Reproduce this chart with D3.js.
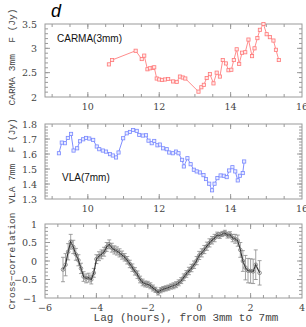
<!DOCTYPE html>
<html>
<head>
<meta charset="utf-8">
<script src="https://cdn.jsdelivr.net/npm/d3@7"></script>
<style>
  body { margin: 0; background: #fff; }
  svg text { fill: #444; }
</style>
</head>
<body>
<svg id="chart" width="306" height="327"></svg>
<script>
// CARMA 3mm light curve (hours, Jy)
var carmaTime = [10.59,10.68,11.34,11.51,11.58,11.67,11.74,11.82,11.86,11.93,12.0,12.08,12.16,12.25,12.39,12.49,12.58,12.66,12.73,13.10,13.18,13.25,13.33,13.42,13.52,13.61,13.70,13.78,13.87,13.94,14.02,14.09,14.17,14.24,14.32,14.41,14.50,14.60,14.67,14.75,14.82,14.92,15.01,15.10,15.20,15.27,15.35];
var carmaFlux = [2.67,2.76,2.95,2.78,2.85,2.57,2.59,2.60,2.61,2.38,2.36,2.35,2.36,2.37,2.32,2.31,2.42,2.40,2.38,2.11,2.20,2.25,2.39,2.47,2.28,2.50,2.42,2.76,2.69,2.55,2.56,2.76,2.98,2.68,2.91,2.92,3.18,2.84,3.00,3.21,3.38,3.50,3.29,3.23,3.16,2.97,2.76];

// VLA 7mm light curve (hours, Jy)
var vlaTime = [9.19,9.27,9.36,9.44,9.53,9.60,9.70,9.78,9.87,9.95,10.04,10.15,10.25,10.32,10.42,10.51,10.62,10.70,10.79,10.86,10.99,11.09,11.18,11.27,11.37,11.44,11.54,11.63,11.70,11.79,11.86,11.95,12.02,12.11,12.21,12.28,12.38,12.47,12.54,12.64,12.69,12.79,12.88,12.97,13.05,13.14,13.24,13.31,13.40,13.48,13.55,13.63,13.72,13.81,13.89,13.96,14.05,14.13,14.20,14.26,14.34,14.38];
var vlaFlux = [1.605,1.676,1.672,1.707,1.734,1.623,1.638,1.685,1.698,1.707,1.703,1.694,1.650,1.632,1.623,1.616,1.599,1.590,1.577,1.610,1.705,1.738,1.747,1.760,1.754,1.727,1.723,1.725,1.689,1.672,1.687,1.658,1.663,1.638,1.632,1.610,1.605,1.616,1.605,1.561,1.517,1.572,1.532,1.495,1.484,1.477,1.459,1.433,1.402,1.358,1.402,1.439,1.457,1.455,1.446,1.490,1.512,1.484,1.424,1.455,1.473,1.550];

// cross-correlation vs lag
var lags = [-5.3,-5.2,-5.1,-5.0,-4.9,-4.8,-4.7,-4.6,-4.5,-4.4,
            -4.3,-4.2,-4.1,-4.0,-3.9,-3.8,-3.7,-3.6,-3.5,-3.4,
            -3.3,-3.2,-3.1,-3.0,-2.9,-2.8,-2.7,-2.6,-2.5,-2.4,
            -2.3,-2.2,-2.1,-2.0,-1.9,-1.8,-1.7,-1.6,-1.5,-1.4,
            -1.3,-1.2,-1.1,-1.0,-0.9,-0.8,-0.7,-0.6,-0.5,-0.4,
            -0.3,-0.2,-0.1,0.0,0.1,0.2,0.3,0.4,0.5,0.6,
            0.7,0.8,0.9,1.0,1.1,1.2,1.3,1.4,1.5,1.6,
            1.7,1.8,1.9,2.0,2.1,2.2,2.35];
var corr = [-0.23,-0.1,0.25,0.52,0.38,0.18,0.02,-0.2,-0.42,-0.47,
            -0.45,-0.5,-0.32,0.05,0.13,0.18,0.25,0.38,0.45,0.36,
            0.3,0.27,0.22,0.16,0.1,0.02,-0.08,-0.18,-0.28,-0.37,
            -0.5,-0.58,-0.62,-0.63,-0.67,-0.73,-0.78,-0.85,-0.79,-0.76,
            -0.74,-0.72,-0.69,-0.67,-0.64,-0.59,-0.53,-0.44,-0.35,-0.27,
            -0.19,-0.1,0.01,0.15,0.22,0.31,0.4,0.49,0.56,0.62,
            0.7,0.69,0.73,0.76,0.7,0.71,0.62,0.6,0.55,0.3,
            0.0,-0.18,-0.26,-0.27,-0.28,-0.1,-0.32];
var corrErr = [0.33,0.3,0.22,0.2,0.18,0.16,0.15,0.14,0.13,0.12,
               0.12,0.12,0.12,0.12,0.12,0.12,0.12,0.12,0.12,0.12,
               0.11,0.11,0.11,0.11,0.1,0.1,0.1,0.1,0.1,0.1,
               0.09,0.09,0.08,0.08,0.08,0.08,0.07,0.07,0.07,0.07,
               0.07,0.07,0.07,0.08,0.08,0.08,0.08,0.09,0.09,0.1,
               0.1,0.1,0.11,0.11,0.11,0.11,0.11,0.11,0.1,0.1,
               0.08,0.08,0.07,0.07,0.08,0.08,0.1,0.12,0.15,0.2,
               0.28,0.33,0.33,0.33,0.33,0.4,0.33];

var svg = d3.select("svg#chart");
var frameColor = "#9a9a9a";
var left = 45, right = 302;

// draws frame + inside ticks on all four sides, labels bottom/left
function frame(x, y, xMajor, xMinor, yMajor, yMinor, yFmt) {
  var g = svg.append("g");
  var x0 = x.range()[0], x1 = x.range()[1], y0 = y.range()[0], y1 = y.range()[1];
  g.append("rect").attr("x", x0).attr("y", y1).attr("width", x1 - x0).attr("height", y0 - y1)
    .attr("fill", "none").attr("stroke", frameColor).attr("stroke-width", 1);
  function ticks(vals, len) {
    vals.forEach(function(v) {
      var px = x(v);
      if (px < x0 + 0.5 || px > x1 - 0.5) return;
      g.append("line").attr("x1", px).attr("x2", px).attr("y1", y0).attr("y2", y0 - len).attr("stroke", frameColor);
      g.append("line").attr("x1", px).attr("x2", px).attr("y1", y1).attr("y2", y1 + len).attr("stroke", frameColor);
    });
  }
  function yticks(vals, len) {
    vals.forEach(function(v) {
      var py = y(v);
      if (py < y1 + 0.5 || py > y0 - 0.5) return;
      g.append("line").attr("y1", py).attr("y2", py).attr("x1", x0).attr("x2", x0 + len).attr("stroke", frameColor);
      g.append("line").attr("y1", py).attr("y2", py).attr("x1", x1).attr("x2", x1 - len).attr("stroke", frameColor);
    });
  }
  ticks(xMinor, 3); ticks(xMajor, 5);
  yticks(yMinor, 3); yticks(yMajor, 5);
  xMajor.forEach(function(v) {
    g.append("text").attr("x", x(v)).attr("y", y0 + 13).attr("text-anchor", "middle")
      .style("font-family", "'DejaVu Serif', serif").style("font-size", "9.5px")
      .text(d3.format("")(v).replace("-", "\u2212"));
  });
  yMajor.forEach(function(v) {
    g.append("text").attr("x", x0 - 8).attr("y", y(v) + 3.5).attr("text-anchor", "end")
      .style("font-family", "'DejaVu Serif', serif").style("font-size", "9.5px")
      .text(yFmt(v).replace("-", "\u2212"));
  });
}

function ylabel(txt, cy) {
  svg.append("text").attr("transform", "translate(15," + cy + ") rotate(-90)")
    .attr("text-anchor", "middle").style("font-family", "'Liberation Mono', monospace")
    .style("font-size", "9.5px").style("white-space", "pre").text(txt);
}

// ---- panel 1: CARMA
var x1s = d3.scaleLinear().domain([8.8, 16]).range([left, right]);
var y1s = d3.scaleLinear().domain([2, 3.5]).range([97, 24]);
frame(x1s, y1s, [10, 12, 14, 16], d3.range(9, 16, 0.5), [2, 2.5, 3, 3.5], d3.range(2, 3.5, 0.1), d3.format(""));
var carma = carmaTime.map(function(t, i) { return [t, carmaFlux[i]]; });
svg.append("path").datum(carma)
  .attr("fill", "none").attr("stroke", "#ff8080").attr("stroke-width", 0.9)
  .attr("d", d3.line().x(function(d) { return x1s(d[0]); }).y(function(d) { return y1s(d[1]); }));
svg.append("g").selectAll("rect").data(carma).enter().append("rect")
  .attr("x", function(d) { return x1s(d[0]) - 1.6; }).attr("y", function(d) { return y1s(d[1]) - 1.6; })
  .attr("width", 3.2).attr("height", 3.2).attr("fill", "#ffe8e8").attr("stroke", "#ff7878").attr("stroke-width", 0.8);
svg.append("text").attr("x", 57).attr("y", 42).style("font-family", "'Liberation Sans', Arial, sans-serif")
  .style("font-size", "10px").style("fill", "#111").text("CARMA(3mm)");
ylabel("CARMA 3mm  F (Jy)", 57);

// ---- panel 2: VLA
var x2s = d3.scaleLinear().domain([8.8, 16]).range([left, right]);
var y2s = d3.scaleLinear().domain([1.3, 1.8]).range([199, 124]);
frame(x2s, y2s, [10, 12, 14, 16], d3.range(9, 16, 0.5), [1.3, 1.4, 1.5, 1.6, 1.7, 1.8], d3.range(1.3, 1.8, 0.02), d3.format(".1f"));
var vla = vlaTime.map(function(t, i) { return [t, vlaFlux[i]]; });
svg.append("path").datum(vla)
  .attr("fill", "none").attr("stroke", "#7080ff").attr("stroke-width", 0.9)
  .attr("d", d3.line().x(function(d) { return x2s(d[0]); }).y(function(d) { return y2s(d[1]); }));
svg.append("g").selectAll("rect").data(vla).enter().append("rect")
  .attr("x", function(d) { return x2s(d[0]) - 1.6; }).attr("y", function(d) { return y2s(d[1]) - 1.6; })
  .attr("width", 3.2).attr("height", 3.2).attr("fill", "#e8ebff").attr("stroke", "#7888ff").attr("stroke-width", 0.8);
svg.append("text").attr("x", 62).attr("y", 181).style("font-family", "'Liberation Sans', Arial, sans-serif")
  .style("font-size", "10px").style("fill", "#111").text("VLA(7mm)");
ylabel("VLA 7mm  F (Jy)", 161);

// ---- panel 3: cross-correlation
var x3s = d3.scaleLinear().domain([-6, 4]).range([left, right]);
var y3s = d3.scaleLinear().domain([-1, 1]).range([298, 224]);
frame(x3s, y3s, [-6, -4, -2, 0, 2, 4], d3.range(-6, 4, 0.5), [-1, -0.5, 0, 0.5, 1], d3.range(-1, 1, 0.1), d3.format(""));
var cc = lags.map(function(l, i) { return { lag: l, c: corr[i], e: corrErr[i] }; });
var eb = svg.append("g").attr("stroke", "#8a8a8a").attr("stroke-width", 0.8);
cc.forEach(function(d) {
  var px = x3s(d.lag), ya = y3s(d.c + d.e), yb = y3s(d.c - d.e);
  eb.append("line").attr("x1", px).attr("x2", px).attr("y1", ya).attr("y2", yb);
  eb.append("line").attr("x1", px - 2).attr("x2", px + 2).attr("y1", ya).attr("y2", ya);
  eb.append("line").attr("x1", px - 2).attr("x2", px + 2).attr("y1", yb).attr("y2", yb);
});
svg.append("path").datum(cc)
  .attr("fill", "none").attr("stroke", "#333").attr("stroke-width", 1.2)
  .attr("d", d3.line().x(function(d) { return x3s(d.lag); }).y(function(d) { return y3s(d.c); }));
svg.append("g").selectAll("circle").data(cc).enter().append("circle")
  .attr("cx", function(d) { return x3s(d.lag); }).attr("cy", function(d) { return y3s(d.c); })
  .attr("r", 1.8).attr("fill", "none").attr("stroke", "#777").attr("stroke-width", 0.8);
ylabel("Cross\u2212correlation", 261);
svg.append("text").attr("x", 186).attr("y", 321).attr("text-anchor", "middle")
  .style("font-family", "'Liberation Mono', monospace").style("font-size", "11px").text("Lag (hours), from 3mm to 7mm");

// panel letter
svg.append("text").attr("x", 51).attr("y", 17).style("font-family", "'Liberation Sans', Arial, sans-serif")
  .style("font-size", "18px").style("font-style", "italic").style("fill", "#000").text("d");
</script>
</body>
</html>
